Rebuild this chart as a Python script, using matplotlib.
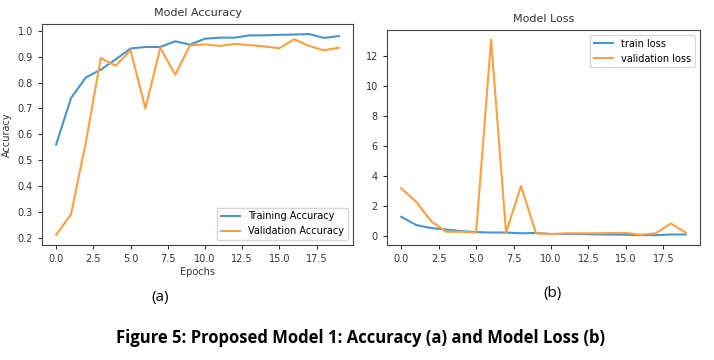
import numpy as np
import matplotlib.pyplot as plt

epochs = np.arange(20)

train_acc = [0.56, 0.74, 0.82, 0.85, 0.89, 0.932, 0.938, 0.938, 0.96, 0.947,
             0.97, 0.974, 0.974, 0.983, 0.983, 0.985, 0.986, 0.988, 0.973, 0.98]
val_acc = [0.21, 0.29, 0.57, 0.895, 0.865, 0.925, 0.70, 0.935, 0.83, 0.945,
           0.948, 0.942, 0.95, 0.945, 0.94, 0.933, 0.968, 0.942, 0.925, 0.935]

train_loss = [1.3, 0.75, 0.55, 0.45, 0.35, 0.28, 0.25, 0.25, 0.2, 0.22,
              0.15, 0.15, 0.15, 0.12, 0.12, 0.1, 0.08, 0.07, 0.12, 0.12]
val_loss = [3.2, 2.3, 1.0, 0.3, 0.3, 0.25, 13.1, 0.25, 3.35, 0.2,
            0.15, 0.2, 0.2, 0.2, 0.22, 0.22, 0.1, 0.2, 0.85, 0.25]

blue = '#4a94cc'
orange = '#ffa040'

plt.rcParams['font.family'] = 'DejaVu Sans'
plt.rcParams['font.size'] = 7

fig = plt.figure(figsize=(7.14, 3.6), dpi=100)

# 左图: 准确率
ax1 = fig.add_axes([42 / 714, 1 - 245 / 360, 311 / 714, 221 / 360])
ax1.plot(epochs, train_acc, color=blue, lw=1.5, label='Training Accuracy')
ax1.plot(epochs, val_acc, color=orange, lw=1.5, label='Validation Accuracy')
ax1.set_title('Model Accuracy', fontsize=8, color='#333333')
ax1.set_xlabel('Epochs', fontsize=7, color='#333333', labelpad=2)
ax1.set_ylabel('Accuracy', fontsize=7, color='#333333')
ax1.set_xticks(np.arange(0, 20, 2.5))
ax1.legend(loc='lower right', fontsize=7)

# 右图: 损失
ax2 = fig.add_axes([387 / 714, 1 - 245 / 360, 313 / 714, 215 / 360])
ax2.plot(epochs, train_loss, color=blue, lw=1.5, label='train loss')
ax2.plot(epochs, val_loss, color=orange, lw=1.5, label='validation loss')
ax2.set_title('Model Loss', fontsize=8, color='#333333')
ax2.set_xticks(np.arange(0, 20, 2.5))
ax2.legend(loc='upper right', fontsize=7)

for ax in (ax1, ax2):
    ax.tick_params(colors='#333333', labelsize=7, length=3)
    for s in ax.spines.values():
        s.set_color('#444444')

fig.text(160 / 714, 1 - 298 / 360, '(a)', ha='center', va='center', fontsize=11,
         family='Open Sans')
fig.text(553 / 714, 1 - 294 / 360, '(b)', ha='center', va='center', fontsize=11,
         family='Open Sans')
fig.text(361 / 714, 1 - 338 / 360,
         'Figure 5: Proposed Model 1: Accuracy (a) and Model Loss (b)',
         ha='center', va='center', fontsize=12, fontweight='bold',
         family='Open Sans')

fig.savefig('out.png', dpi=100)
